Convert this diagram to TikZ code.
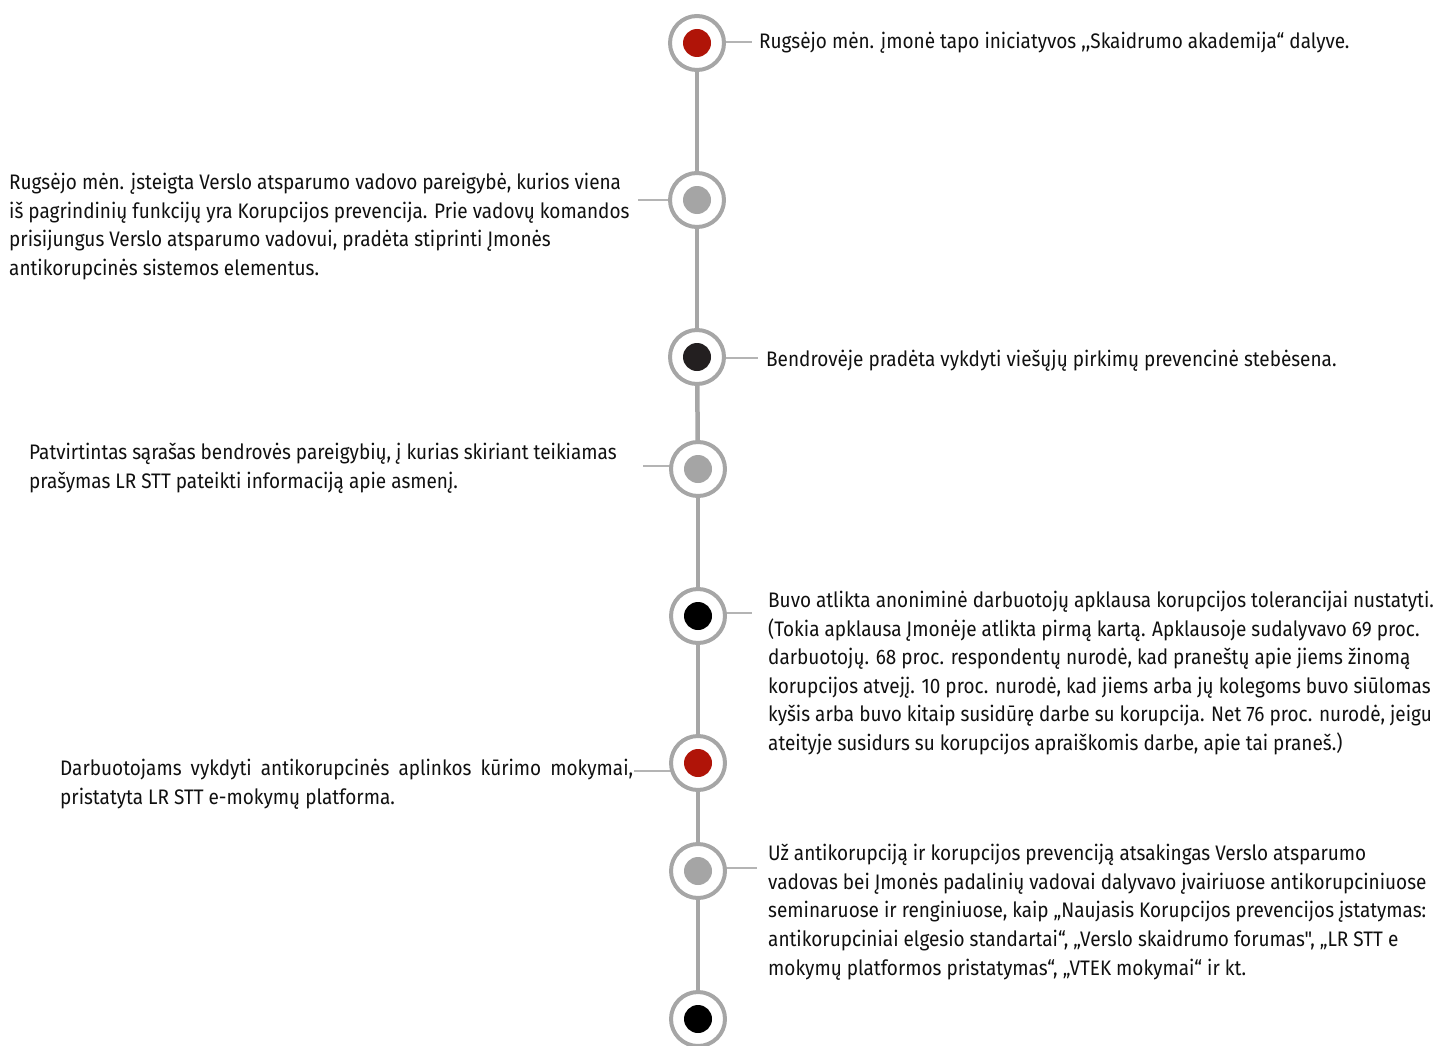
\documentclass[tikz,border=0pt]{standalone}
\usepackage{fontspec}
\setmainfont{Fira Sans}[FakeStretch=0.903,Ligatures=TeXOff]
\usetikzlibrary{backgrounds}
\definecolor{ringc}{HTML}{A6A6A6}
\definecolor{tickc}{HTML}{B4B4B4}
\definecolor{redc}{HTML}{B01408}
\definecolor{grayc}{HTML}{A5A5A5}
\definecolor{darkc}{HTML}{231F20}
\definecolor{blackc}{HTML}{000000}
\definecolor{textc}{HTML}{101010}
\begin{document}
\begin{tikzpicture}[x=1pt,y=-1pt,
  ring/.style={circle,draw=ringc,line width=4pt,fill=white,minimum size=54pt,inner sep=0pt},
  dot/.style={circle,fill=#1,minimum size=28pt,inner sep=0pt},
  spine/.style={draw=ringc,line width=4.5pt},
  tick/.style={draw=tickc,line width=1.8pt},
  txt/.style={font=\fontsize{21}{28.6}\selectfont,inner sep=0pt,anchor=north west,align=left,text=textc}]
\useasboundingbox (0,0) rectangle (1434,1046);
% rings and dots
\node[ring] (c1) at (697,43) {};  \node[dot=redc]   (d1) at (c1) {};
\node[ring] (c2) at (697,200) {}; \node[dot=grayc]  (d2) at (c2) {};
\node[ring] (c3) at (697,357) {}; \node[dot=darkc]  (d3) at (c3) {};
\node[ring] (c4) at (698,469) {}; \node[dot=grayc]  (d4) at (c4) {};
\node[ring] (c5) at (698,616) {}; \node[dot=blackc] (d5) at (c5) {};
\node[ring] (c6) at (698,763) {}; \node[dot=redc]   (d6) at (c6) {};
\node[ring] (c7) at (698,871) {}; \node[dot=grayc]  (d7) at (c7) {};
\node[ring] (c8) at (698,1019) {};\node[dot=blackc] (d8) at (c8) {};
% free ends of ticks
\coordinate (e1) at (752,42);
\coordinate (e2) at (638,200);
\coordinate (e3) at (758,358);
\coordinate (e4) at (643,466);
\coordinate (e5) at (752,613);
\coordinate (e6) at (634,771);
\coordinate (e7) at (757,868);
% texts
\node[txt] (t1) at (759,32) {Rugsėjo mėn. įmonė tapo iniciatyvos ,,Skaidrumo akademija“ dalyve.};
\node[txt] (t2) at (9,173) {Rugsėjo mėn. įsteigta Verslo atsparumo vadovo pareigybė, kurios viena\\
iš pagrindinių funkcijų yra Korupcijos prevencija. Prie vadovų komandos\\
prisijungus Verslo atsparumo vadovui, pradėta stiprinti Įmonės\\
antikorupcinės sistemos elementus.};
\node[txt] (t3) at (766,350) {Bendrovėje pradėta vykdyti viešųjų pirkimų prevencinė stebėsena.};
\node[txt] (t4) at (29,443) {Patvirtintas sąrašas bendrovės pareigybių, į kurias skiriant teikiamas\\
prašymas LR STT pateikti informaciją apie asmenį.};
\node[txt] (t5) at (768,591) {Buvo atlikta anoniminė darbuotojų apklausa korupcijos tolerancijai nustatyti.\\
(Tokia apklausa Įmonėje atlikta pirmą kartą. Apklausoje sudalyvavo 69 proc.\\
darbuotojų. 68 proc. respondentų nurodė, kad praneštų apie jiems žinomą\\
korupcijos atvejį. 10 proc. nurodė, kad jiems arba jų kolegoms buvo siūlomas\\
kyšis arba buvo kitaip susidūrę darbe su korupcija. Net 76 proc. nurodė, jeigu\\
ateityje susidurs su korupcijos apraiškomis darbe, apie tai praneš.)};
\node[txt,text width=573pt,align=justify] (t6) at (60,759) {Darbuotojams vykdyti antikorupcinės aplinkos kūrimo mokymai,\linebreak
pristatyta LR STT e-mokymų platforma.};
\node[txt] (t7) at (768,844) {Už antikorupciją ir korupcijos prevenciją atsakingas Verslo atsparumo\\
vadovas bei Įmonės padalinių vadovai dalyvavo įvairiuose antikorupciniuose\\
seminaruose ir renginiuose, kaip „Naujasis Korupcijos prevencijos įstatymas:\\
antikorupciniai elgesio standartai“, „Verslo skaidrumo forumas", „LR STT e\\
mokymų platformos pristatymas“, „VTEK mokymai“ ir kt.};
% connectors behind rings
\begin{scope}[on background layer]
\draw[spine] (c1) -- (c2);
\draw[spine] (c2) -- (c3);
\draw[spine] (c3) -- (c4);
\draw[spine] (c4) -- (c5);
\draw[spine] (c5) -- (c6);
\draw[spine] (c6) -- (c7);
\draw[spine] (c7) -- (c8);
\draw[tick] (e1 -| c1) -- (e1);
\draw[tick] (e2 -| c2) -- (e2);
\draw[tick] (e3 -| c3) -- (e3);
\draw[tick] (e4 -| c4) -- (e4);
\draw[tick] (e5 -| c5) -- (e5);
\draw[tick] (e6 -| c6) -- (e6);
\draw[tick] (e7 -| c7) -- (e7);
\end{scope}
\end{tikzpicture}
\end{document}
